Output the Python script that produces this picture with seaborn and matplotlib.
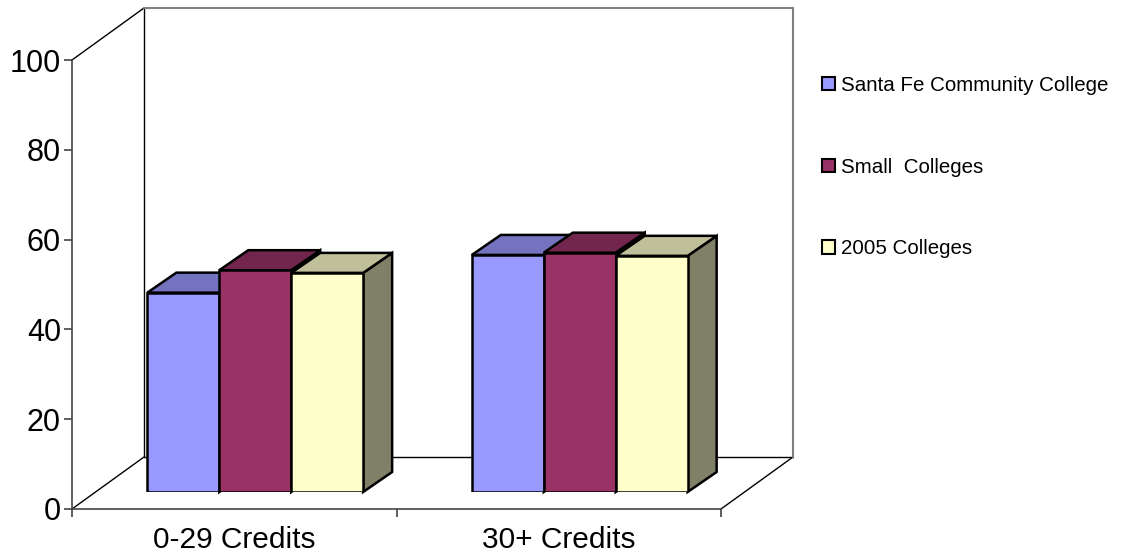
import matplotlib
matplotlib.use("Agg")
import matplotlib.pyplot as plt
from matplotlib.patches import Polygon, Patch
import numpy as np
import pandas as pd
import seaborn as sns

# data
categories = ['0-29 Credits', '30+ Credits']
groups = ['Santa Fe Community College', 'Small  Colleges', '2005 Colleges']
sfcc = [44.4, 52.8]
small = [49.4, 53.3]
c2005 = [48.8, 52.6]
colors = ['#9999FF', '#993366', '#FFFFCC']
yticks = [0, 20, 40, 60, 80, 100]

df = pd.DataFrame({
    'credits': categories * 3,
    'group': [groups[0]] * 2 + [groups[1]] * 2 + [groups[2]] * 2,
    'value': sfcc + small + c2005,
})

sns.set_style('white')
plt.rcParams['font.family'] = ['Liberation Sans', 'DejaVu Sans']
plt.rcParams['text.color'] = 'black'
plt.rcParams['xtick.labelcolor'] = 'black'
plt.rcParams['ytick.labelcolor'] = 'black'

W, H = 1121, 558
fig = plt.figure(figsize=(W / 100, H / 100), dpi=100)

# front plane (axis) in pixels
fx0, fy0, fw, fh = 72, 509, 649, 449
ax = fig.add_axes([fx0 / W, (H - fy0) / H, fw / W, fh / H])
ax.set_xlim(-0.5, 1.5)
ax.set_ylim(0, 100)
ax.set_yticks(yticks)
ax.set_xticks([0, 1])
ax.set_xticklabels(categories)
ax.set_xticks([-0.5, 0.5, 1.5], minor=True)
for s in ['top', 'right']:
    ax.spines[s].set_visible(False)
for s in ['left', 'bottom']:
    ax.spines[s].set_color('#444444')
    ax.spines[s].set_linewidth(1.2)
ax.tick_params(axis='y', which='major', direction='out', length=6, width=1.2,
               color='#444444', labelsize=22, pad=2, left=True)
ax.tick_params(axis='x', which='major', length=0, labelsize=21.5, pad=12.5)
ax.tick_params(axis='x', which='minor', direction='out', length=6, width=1.2,
               color='#444444', bottom=True)
ax.patch.set_visible(False)

# depth of the box (in front-axis data units)
DX = 72 / (fw / 2)
DY = 52 / (fh / 100)
lk = dict(clip_on=False, lw=1.0)
ax.plot([-0.5, -0.5 + DX], [100, 100 + DY], color='black', **lk)
ax.plot([-0.5, -0.5 + DX], [0, DY], color='black', **lk)
ax.plot([1.5, 1.5 + DX], [0, DY], color='black', **lk)
ax.plot([-0.5 + DX, -0.5 + DX], [DY, 100 + DY], color='black', **lk)
ax.plot([-0.5 + DX, 1.5 + DX], [DY, DY], color='black', **lk)
ax.plot([-0.5 + DX, 1.5 + DX], [100 + DY, 100 + DY], color='#808080', lw=1.5, clip_on=False)
ax.plot([1.5 + DX, 1.5 + DX], [DY, 100 + DY], color='#808080', lw=1.5, clip_on=False)

# bar plane, a little behind the front plane
bx0, by0 = 72 + 21, 492
axb = fig.add_axes([bx0 / W, (H - by0) / H, fw / W, fh / H])
sns.barplot(data=df, x='credits', y='value', hue='group', hue_order=groups,
            palette=colors, width=0.665, gap=0, saturation=1,
            edgecolor='black', linewidth=1.8, legend=False, ax=axb)
axb.set_xlim(-0.5, 1.5)
axb.set_ylim(0, 100)
axb.axis('off')
axb.patch.set_visible(False)

dx = 29 / (fw / 2)
dy = 20 / (fh / 100)
for p in list(axb.patches):
    x0, w, h = p.get_x(), p.get_width(), p.get_height()
    fc = np.array(p.get_facecolor()[:3])
    p.set_zorder(10)
    top = Polygon([(x0, h), (x0 + dx, h + dy), (x0 + w + dx, h + dy), (x0 + w, h)],
                  closed=True, facecolor=fc * 0.75, edgecolor='black', lw=1.8,
                  zorder=5 + h / 100, clip_on=False, joinstyle='miter')
    side = Polygon([(x0 + w, 0), (x0 + w + dx, dy), (x0 + w + dx, h + dy), (x0 + w, h)],
                   closed=True, facecolor=fc * 0.5, edgecolor='black', lw=1.8,
                   zorder=2, clip_on=False, joinstyle='miter')
    axb.add_patch(side)
    axb.add_patch(top)

handles = [Patch(facecolor=c, edgecolor='black', lw=1.5) for c in colors]
fig.legend(handles, groups, loc='upper left', bbox_to_anchor=(822 / W, (H - 76) / H),
           frameon=False, fontsize=14.8, handlelength=0.62, handleheight=0.62,
           handletextpad=0.3, labelspacing=3.05, borderaxespad=0, borderpad=0,
           labelcolor='black')

fig.savefig('out.png', dpi=100)
